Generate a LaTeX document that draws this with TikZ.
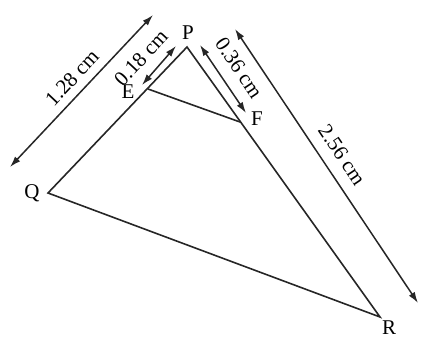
\documentclass[tikz,border=0pt]{standalone}
\usepackage{fontspec}
\setmainfont{Liberation Serif}
\usetikzlibrary{arrows.meta}
\begin{document}
\begin{tikzpicture}[x=1pt,y=-1pt,
  edge/.style={line width=1.6pt, black!85},
  dim/.style={line width=1.5pt, black!85, {Latex[length=11pt,width=7pt]}-{Latex[length=11pt,width=7pt]}},
  vlabel/.style={font=\fontsize{21}{21}\selectfont, inner sep=0pt},
  dlabel/.style={font=\fontsize{21}{21}\selectfont, inner sep=0pt}]
\useasboundingbox (0,0) rectangle (423,339);
% vertices
\coordinate (P) at (187,47);
\coordinate (Q) at (48,193);
\coordinate (R) at (380,317);
\coordinate (E) at (148,89);
\coordinate (F) at (240,122);
% triangle
\draw[edge, line join=miter] (P) -- (Q) -- (R) -- cycle;
\draw[edge] (E) -- (F);
% vertex labels
\node[vlabel] (lP) at (188,33) {P};
\node[vlabel] (lQ) at (32,193) {Q};
\node[vlabel] (lR) at (389,328) {R};
\node[vlabel] (lE) at (128,92) {E};
\node[vlabel] (lF) at (257,119) {F};
% dimension arrows
\coordinate (a1) at (10,167);
\coordinate (a2) at (153,15);
\draw[dim] (a1) -- (a2);
\coordinate (b1) at (142,85);
\coordinate (b2) at (176,46);
\draw[dim] (b1) -- (b2);
\coordinate (c1) at (200,45);
\coordinate (c2) at (246,113);
\draw[dim] (c1) -- (c2);
\coordinate (d1) at (235,29);
\coordinate (d2) at (418,303);
\draw[dim] (d1) -- (d2);
% dimension labels
\node[dlabel, rotate=46.7] (t1) at (72,78) {1.28 cm};
\node[dlabel, rotate=47] (t2) at (141,58) {0.18 cm};
\node[dlabel, rotate=-56] (t3) at (239,68) {0.36 cm};
\node[dlabel, rotate=-56] (t4) at (342,155) {2.56 cm};
\end{tikzpicture}
\end{document}
